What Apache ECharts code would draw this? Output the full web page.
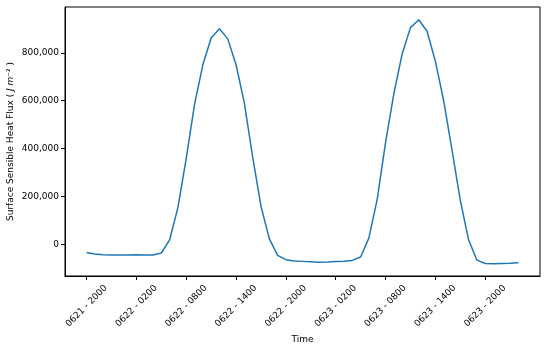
<!DOCTYPE html>
<html>
<head>
<meta charset="utf-8">
<script src="https://cdn.jsdelivr.net/npm/echarts@6/dist/echarts.min.js"></script>
<style>
  html, body { margin: 0; padding: 0; background: #fff; }
  #chart { width: 550px; height: 348px; }
</style>
</head>
<body>
<div id="chart"></div>
<script>
  // hourly values, starting 0621 20:00
  var fluxValues = [
    -33000, -39000, -42000, -43000, -43000, -43000, -42000, -43000, -43000, -35000,
    20000, 155000, 360000, 585000, 750000, 862000, 900000, 858000, 750000, 590000,
    365000, 160000, 25000, -45000, -63000, -68000, -70000, -72000, -74000, -73000,
    -71000, -69000, -66000, -52000, 28000, 190000, 425000, 630000, 795000, 905000,
    938000, 890000, 765000, 600000, 395000, 185000, 20000, -65000, -79000, -80000,
    -79000, -78000, -76000
  ]
  var tickHours = [0, 6, 12, 18, 24, 30, 36, 42, 48]
  var tickLabels = ['0621 - 2000', '0622 - 0200', '0622 - 0800', '0622 - 1400', '0622 - 2000',
    '0623 - 0200', '0623 - 0800', '0623 - 1400', '0623 - 2000']
  var yTicks = [0, 200000, 400000, 600000, 800000]

  var font = 'DejaVu Sans'
  var chart = echarts.init(document.getElementById('chart'))
  chart.setOption({
    animation: false,
    grid: {
      left: 65,
      right: 10,
      top: 7,
      bottom: 72,
      outerBoundsMode: 'none',
      containLabel: false,
      show: true,
      borderColor: '#000',
      borderWidth: 1
    },
    xAxis: {
      type: 'value',
      min: -2.6,
      max: 54.6,
      name: 'Time',
      nameLocation: 'middle',
      nameGap: 59,
      nameMoveOverlap: false,
      nameTextStyle: { fontFamily: font, fontSize: 9, color: '#000' },
      splitLine: { show: false },
      axisLine: { onZero: false, lineStyle: { color: '#000', width: 1 } },
      axisTick: { customValues: tickHours, length: 4, lineStyle: { color: '#000' } },
      axisLabel: {
        customValues: tickHours,
        rotate: 45,
        align: 'center',
        verticalAlign: 'middle',
        margin: 30,
        fontFamily: font,
        fontSize: 9,
        color: '#000',
        formatter: function(v) {
          return tickLabels[tickHours.indexOf(v)]
        }
      }
    },
    yAxis: {
      type: 'value',
      min: -131000,
      max: 991000,
      name: 'Surface Sensible Heat Flux ( {i|J m}⁻² )',
      nameLocation: 'middle',
      nameGap: 50,
      nameMoveOverlap: false,
      nameTextStyle: {
        fontFamily: font,
        fontSize: 9,
        color: '#000',
        rich: {
          i: { fontFamily: font, fontSize: 9, fontStyle: 'italic', color: '#000' }
        }
      },
      splitLine: { show: false },
      axisLine: { show: true, onZero: false, lineStyle: { color: '#000', width: 1 } },
      axisTick: { show: true, customValues: yTicks, length: 4, lineStyle: { color: '#000' } },
      axisLabel: {
        customValues: yTicks,
        margin: 6,
        fontFamily: font,
        fontSize: 9,
        color: '#000',
        formatter: function(v) {
          return v.toLocaleString('en-US')
        }
      }
    },
    series: [{
      type: 'line',
      data: fluxValues.map(function(v, i) { return [i, v] }),
      showSymbol: false,
      lineStyle: { color: '#1f77b4', width: 1.5 },
      itemStyle: { color: '#1f77b4' }
    }]
  })
</script>
</body>
</html>
